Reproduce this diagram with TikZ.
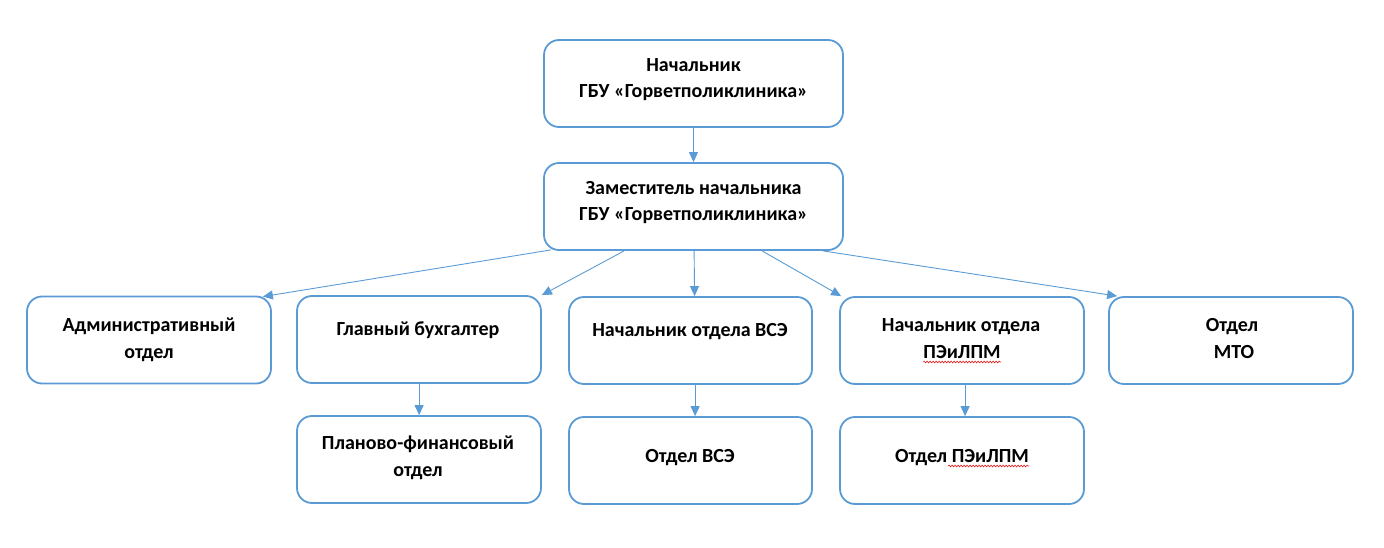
\documentclass[tikz,border=0pt]{standalone}
\usepackage{fontspec}
\setmainfont{Carlito}
\usetikzlibrary{arrows.meta,calc,decorations.pathmorphing}
\definecolor{wblue}{RGB}{91,155,213}
\definecolor{spell}{RGB}{230,30,30}
\tikzset{
  box/.style={draw=wblue,line width=1.8pt,rounded corners=15pt,inner sep=0pt,fill=white},
  bigbox/.style={box,minimum width=299pt,minimum height=87pt},
  smallbox/.style={box,minimum width=244pt,minimum height=87pt},
  txt/.style={anchor=base,inner sep=0pt,align=center,font=\fontsize{20}{27}\bfseries\selectfont},
  arr/.style={draw=wblue,line width=0.9pt,-{Triangle[length=10pt,width=9pt]}},
  wavy/.style={draw=spell,line width=0.6pt,decorate,decoration={snake,amplitude=0.9pt,segment length=3pt}}
}
\begin{document}
\begin{tikzpicture}[x=1pt,y=-1pt]
\useasboundingbox (0,0) rectangle (1384,548);
% boxes
\node[bigbox] (top) at (693.5,83.5) {};
\node[bigbox] (dep) at (693.5,206.5) {};
\node[smallbox] (adm) at (149,340) {};
\node[smallbox] (buh) at (419,339.5) {};
\node[smallbox,minimum width=243pt] (vse) at (690.5,340.5) {};
\node[smallbox] (pe) at (962,340.5) {};
\node[smallbox] (mto) at (1231,340.5) {};
\node[smallbox] (plan) at (419,459.5) {};
\node[smallbox,minimum width=243pt] (ovse) at (690.5,460.5) {};
\node[smallbox] (ope) at (962,460.5) {};
% texts
\node[txt] (ttop1) at (693.5,72) {Начальник};
\node[txt] (ttop2) at (693.5,98) {ГБУ «Горветполиклиника»};
\node[txt] (tdep1) at (693.5,195) {Заместитель начальника};
\node[txt] (tdep2) at (693.5,221) {ГБУ «Горветполиклиника»};
\node[txt] (tadm1) at (149,331) {Административный};
\node[txt] (tadm2) at (149,358) {отдел};
\node[txt] (tbuh) at (418,335) {Главный бухгалтер};
\node[txt] (tvse) at (690,336) {Начальник отдела ВСЭ};
\node[txt] (tpe1) at (961,331) {Начальник отдела};
\node[txt] (tpe2) at (962,358) {ПЭиЛПМ};
\node[txt] (tmto1) at (1232,331) {Отдел};
\node[txt] (tmto2) at (1234,358) {МТО};
\node[txt] (tplan1) at (418,449) {Планово-финансовый};
\node[txt] (tplan2) at (418,476) {отдел};
\node[txt] (tovse) at (690,462) {Отдел ВСЭ};
\node[txt] (tope) at (962,462) {Отдел ПЭиЛПМ};
% spell-check underlines
\draw[wavy] ($(tpe2.base west)+(0,4)$) -- ($(tpe2.base east)+(0,4)$);
\coordinate (wst) at ($(tope.base east)+(-81,4)$);
\draw[wavy] (wst) -- ($(tope.base east)+(0,4)$);
% connectors
\draw[arr] (top.south) -- (dep.north);
\draw[arr] ($(dep.south west)+(8,-1)$) -- ($(adm.north east)+(-9,1)$);
\draw[arr] ($(dep.south west)+(81,0)$) -- ($(buh.north east)+(0,0)$);
\draw[arr] ($(dep.south west)+(151,0)$) -- ($(vse.north west)+(126.5,0)$);
\draw[arr] ($(dep.south west)+(219,0)$) -- ($(pe.north west)+(2,0)$);
\draw[arr] ($(dep.south east)+(-21,0)$) -- ($(mto.north west)+(9,0)$);
\draw[arr] ($(buh.south west)+(123,0)$) -- ($(plan.north west)+(123,0)$);
\draw[arr] ($(vse.south west)+(127,0)$) -- ($(ovse.north west)+(127,0)$);
\draw[arr] ($(pe.south west)+(126,0)$) -- ($(ope.north west)+(126,0)$);
\end{tikzpicture}
\end{document}
